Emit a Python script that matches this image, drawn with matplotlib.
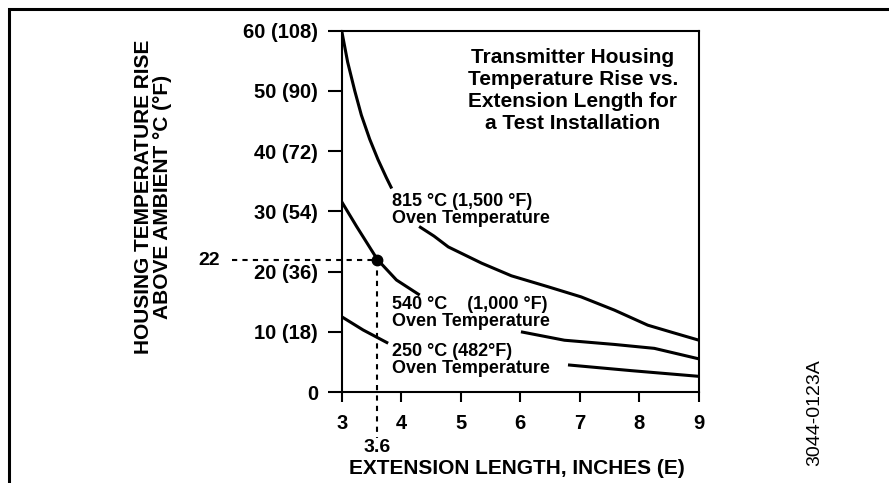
import numpy as np
import matplotlib
matplotlib.use("Agg")
import matplotlib.pyplot as plt
from matplotlib.lines import Line2D

plt.rcParams['font.family'] = ['Liberation Sans', 'DejaVu Sans']

# ---- data (None = hidden behind label) ----
x_815 = [3.0, 3.10, 3.22, 3.33, 3.47, 3.61, 3.75, 3.84, None,
         4.30, 4.55, 4.79, 5.35, 5.85, 6.46, 7.02, 7.58, 8.14, 8.55, 9.0]
y_815 = [60.0, 54.8, 50.0, 46.0, 42.0, 38.6, 35.6, 33.8, None,
         27.5, 25.9, 24.1, 21.4, 19.3, 17.5, 15.8, 13.6, 11.1, 9.9, 8.6]

x_540 = [3.0, 3.25, 3.6, 3.92, 4.31, None, 6.01, 6.74, 7.58, 8.25, 9.0]
y_540 = [31.6, 27.5, 22.0, 18.6, 16.1, None, 10.0, 8.6, 7.9, 7.25, 5.5]

x_250 = [3.0, 3.36, 3.78, None, 6.80, 7.86, 9.0]
y_250 = [12.5, 10.3, 8.1, None, 4.5, 3.55, 2.6]

marker_x = 3.6
marker_y = 22

x_ticks = [3, 4, 5, 6, 7, 8, 9]
y_ticks = [0, 10, 20, 30, 40, 50, 60]
y_tick_labels = ["0", "10 (18)", "20 (36)", "30 (54)", "40 (72)", "50 (90)", "60 (108)"]

label_815 = "815 °C (1,500 °F)\nOven Temperature"
label_540 = "540 °C    (1,000 °F)\nOven Temperature"
label_250 = "250 °C (482°F)\nOven Temperature"
title_text = "Transmitter Housing\nTemperature Rise vs.\nExtension Length for\na Test Installation"
ylabel_text = "HOUSING TEMPERATURE RISE\nABOVE AMBIENT °C (°F)"
xlabel_text = "EXTENSION LENGTH, INCHES (E)"
code_text = "3044-0123A"

def nz(v):
    return [np.nan if a is None else a for a in v]

W, H = 889, 483
fig = plt.figure(figsize=(W / 100, H / 100), dpi=100)

def fx(px):
    return px / W

def fy(py):
    return 1 - py / H

ax = fig.add_axes([fx(341.7), fy(392), fx(699) - fx(341.7), fy(30.8) - fy(392)])
ax.set_xlim(3, 9)
ax.set_ylim(0, 60)

lw_curve = 2.2
for xs, ys in ((x_815, y_815), (x_540, y_540), (x_250, y_250)):
    ax.plot(nz(xs), nz(ys), color='black', lw=lw_curve, solid_capstyle='butt',
            solid_joinstyle='round')

# reference marker and dashed guide lines
x_left = 1.16
y_bottom = -7.6
ax.plot([x_left, marker_x], [marker_y, marker_y], color='black', lw=1.5,
        ls=(0, (2.5, 2.5)), clip_on=False)
ax.plot([marker_x, marker_x], [marker_y, y_bottom], color='black', lw=1.5,
        ls=(0, (2.5, 2.5)), clip_on=False)
ax.plot([marker_x], [marker_y], 'o', color='black', ms=7.5, clip_on=False)
ax.text(0.96, marker_y - 0.2, "22", ha='right', va='center', fontsize=14, fontweight='bold')
ax.text(marker_x, -9.3, "3.6", ha='center', va='center', fontsize=14, fontweight='bold')

for sp in ax.spines.values():
    sp.set_linewidth(1.5)

ax.set_xticks(x_ticks)
ax.set_xticklabels([str(t) for t in x_ticks])
ax.set_yticks(y_ticks)
ax.set_yticklabels(y_tick_labels)
ax.tick_params(axis='y', direction='out', length=10, width=1.5, pad=7, labelsize=14.5)
ax.tick_params(axis='x', direction='out', length=7, width=1.5, pad=9, labelsize=14.5)
for lab in ax.get_xticklabels() + ax.get_yticklabels():
    lab.set_fontweight('bold')

# curve labels
ax.text(3.84, 33.0, label_815, ha='left', va='top', fontsize=13, fontweight='bold', linespacing=0.95)
ax.text(3.84, 15.9, label_540, ha='left', va='top', fontsize=13, fontweight='bold', linespacing=0.95)
ax.text(3.84, 8.1, label_250, ha='left', va='top', fontsize=13, fontweight='bold', linespacing=0.95)

# title block
fig.text(fx(573), fy(48), title_text, ha='center', va='top', fontsize=15, fontweight='bold',
         linespacing=1.2)

# axis labels
fig.text(fx(153), fy(197), ylabel_text, ha='center', va='center', rotation=90,
         fontsize=15, fontweight='bold', linespacing=1.05, multialignment='center')
fig.text(fx(517), fy(468), xlabel_text, ha='center', va='center', fontsize=15, fontweight='bold')

fig.text(fx(815), fy(413), code_text, ha='center', va='center', rotation=90, fontsize=14)

# outer frame (top and left edges)
fig.add_artist(Line2D([fx(9), fx(9), 1.0], [0.0, fy(9), fy(9)], color='black', lw=2.2,
                      transform=fig.transFigure, solid_joinstyle='miter'))

fig.savefig("out.png", dpi=100)
